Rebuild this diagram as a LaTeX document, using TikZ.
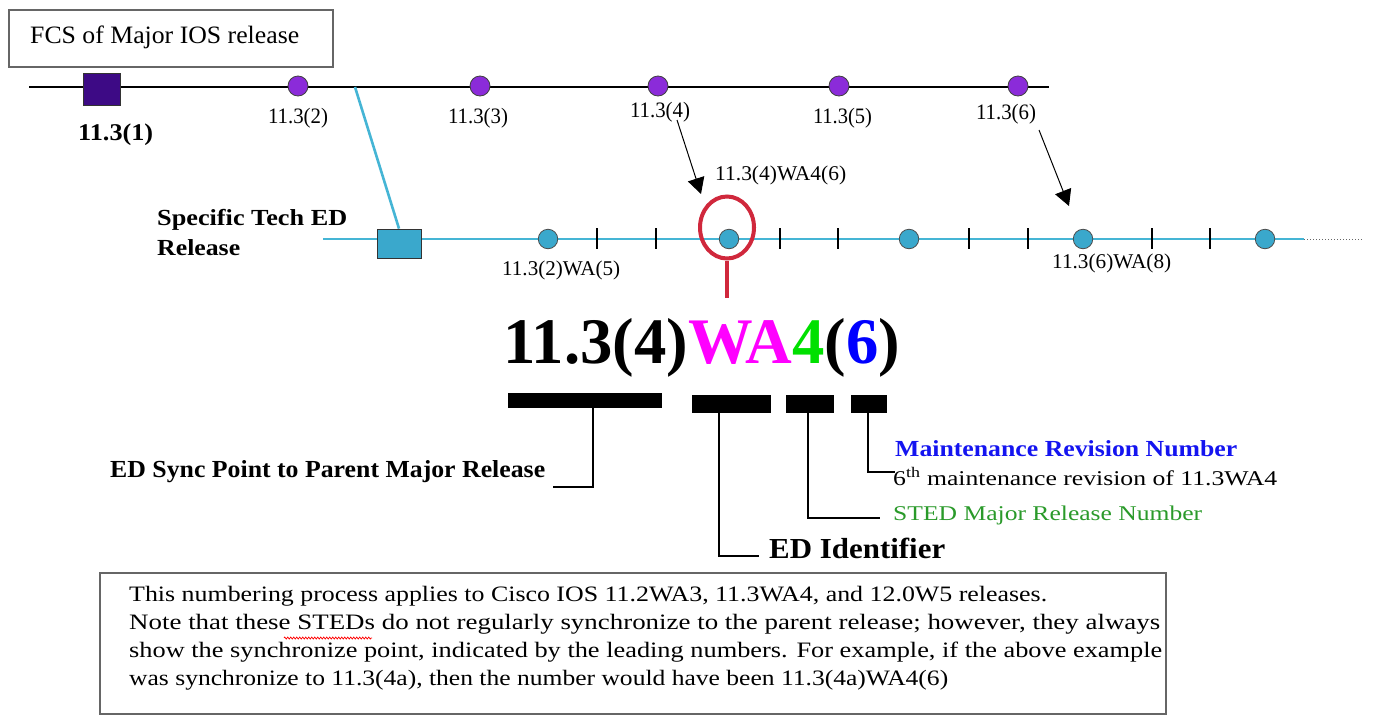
\documentclass[tikz,border=0pt]{standalone}
\usepackage{fontspec}
\setmainfont{Liberation Serif}
\usepackage{graphicx}
\usetikzlibrary{arrows.meta,shapes.geometric,decorations.pathmorphing}
\newcommand\fitw[2]{\resizebox{#1pt}{\height}{#2}}
\newcommand\fsz[1]{\fontsize{#1}{#1}\selectfont}
\definecolor{sqcol}{HTML}{3D0A85}
\definecolor{pcol}{HTML}{8B2BD9}
\definecolor{ccol}{HTML}{3AA8CC}
\definecolor{cline}{HTML}{45B5D5}
\definecolor{redc}{HTML}{D0283C}
\definecolor{magc}{HTML}{FF00FF}
\definecolor{grnc}{HTML}{00E000}
\definecolor{bluc}{HTML}{0000FF}
\definecolor{lgrn}{HTML}{2A9A2A}
\definecolor{mblue}{HTML}{1414F0}
\definecolor{boxgray}{HTML}{666666}
\begin{document}
\begin{tikzpicture}[x=1pt,y=-1pt,
  txt/.style={inner sep=0pt, anchor=base west},
  ctxt/.style={inner sep=0pt, anchor=base},
  pcirc/.style={circle, draw=black!75, line width=0.8pt, fill=pcol, minimum size=20pt, inner sep=0pt},
  bcirc/.style={circle, draw=black!70, line width=0.8pt, fill=ccol, minimum size=19.5pt, inner sep=0pt},
  tickmark/.style={black, line width=1.3pt},
  barbox/.style={fill=black, draw=none, inner sep=0pt},
  leader/.style={line width=2.8pt, black},
  arr/.style={line width=1pt, -{Triangle[length=16pt,width=17pt]}},
  framebox/.style={draw=boxgray, line width=1.5pt, inner sep=0pt}]
\useasboundingbox (0,0) rectangle (1373,715);
\fill[white] (0,0) rectangle (1373,715);

% FCS box
\node[framebox, minimum width=324pt, minimum height=57pt] (fcs) at (171,38.5) {};
\node[txt] (fcst) at (30,43) {\fsz{25}\fitw{269}{FCS of Major IOS release}};

% top timeline
\coordinate (tl) at (29,87);
\coordinate (tr) at (1049,87);
\coordinate (jt) at (355,87);
\draw[black, line width=1.5pt] (tl) -- (tr);

% blue timeline
\coordinate (bl) at (323,239);
\coordinate (br) at (1304,239);
\coordinate (bd) at (1362,239);
\draw[cline, line width=2.6pt] (bl) -- (br);
\draw[boxgray, line width=1pt, dotted] (br) -- (bd);
\foreach \x in {597,656,780,838,969,1028,1152,1210}
  \draw[tickmark] (\x,228) -- (\x,249);

% nodes on top line
\node[draw=black!80, line width=0.8pt, fill=sqcol, minimum width=37pt, minimum height=32pt, inner sep=0pt] (sq) at (102,89) {};
\node[pcirc] (p2) at (298,86) {};
\node[pcirc] (p3) at (480,86) {};
\node[pcirc] (p4) at (658,86) {};
\node[pcirc] (p5) at (839,86) {};
\node[pcirc] (p6) at (1018,86) {};

% blue square and circles
\node[draw=black!80, line width=0.8pt, fill=ccol, minimum width=44pt, minimum height=29pt, inner sep=0pt] (bsq) at (399,243.5) {};
\draw[cline, line width=2.6pt] (jt) -- (bsq.north);
\node[bcirc] (b1) at (548,239) {};
\node[bcirc] (b2) at (729,239) {};
\node[bcirc] (b3) at (909,239) {};
\node[bcirc] (b4) at (1083,239) {};
\node[bcirc] (b5) at (1265,239) {};

% labels top line
\node[txt] (l1) at (78,140) {\fsz{24}\fitw{75}{\bfseries 11.3(1)}};
\node[ctxt] (l2) at (298,123) {\fsz{22}\fitw{60}{11.3(2)}};
\node[ctxt] (l3) at (478,123) {\fsz{22}\fitw{60}{11.3(3)}};
\node[ctxt] (l4) at (660,117) {\fsz{22}\fitw{60}{11.3(4)}};
\node[ctxt] (l5) at (842.5,123) {\fsz{22}\fitw{59}{11.3(5)}};
\node[ctxt] (l6) at (1006,119) {\fsz{22}\fitw{60}{11.3(6)}};

% labels blue line
\node[txt] (st1) at (157,225) {\fsz{23}\fitw{190}{\bfseries Specific Tech ED}};
\node[txt] (st2) at (157,255) {\fsz{23}\fitw{83}{\bfseries Release}};
\node[txt] (w5) at (502,275) {\fsz{21}\fitw{118}{11.3(2)WA(5)}};
\node[txt] (w8) at (1052,268) {\fsz{21}\fitw{119}{11.3(6)WA(8)}};
\node[txt] (w46) at (715,180) {\fsz{21}\fitw{131}{11.3(4)WA4(6)}};

% arrows
\coordinate (a1s) at (677,120);
\coordinate (a1e) at (701,194);
\draw[arr] (a1s) -- (a1e);
\coordinate (a2s) at (1039,130);
\coordinate (a2e) at (1069,206);
\draw[arr] (a2s) -- (a2e);

% red ellipse
\node[ellipse, draw=redc, line width=4pt, minimum width=54pt, minimum height=62pt, inner sep=0pt] (ell) at (727,227.5) {};
\coordinate (rl) at (727,298);
\draw[redc, line width=4pt] (ell.south) -- (rl);

% big number
\node[txt] (big) at (503,363) {\fsz{65}\fitw{397}{\bfseries 11.3(4)\textcolor{magc}{WA}\textcolor{grnc}{4}(\textcolor{bluc}{6})}};

% bars
\node[barbox, minimum width=154pt, minimum height=15pt] (bar1) at (585,400.5) {};
\node[barbox, minimum width=79pt, minimum height=18pt] (bar2) at (731.5,404) {};
\node[barbox, minimum width=48pt, minimum height=18pt] (bar3) at (810,404) {};
\node[barbox, minimum width=36pt, minimum height=18pt] (bar4) at (869,404) {};

% leaders
\coordinate (c1) at (553,487);
\coordinate (c2) at (759,556);
\coordinate (c3) at (880,518);
\coordinate (c4) at (895,472);
\draw[leader] ([xshift=8pt]bar1.south) |- (c1);
\draw[leader] ([xshift=-12.5pt]bar2.south) |- (c2);
\draw[leader] ([xshift=-2pt]bar3.south) |- (c3);
\draw[leader] ([xshift=-1pt]bar4.south) |- (c4);

% leader labels
\node[txt] (t1) at (110,477) {\fsz{24.5}\fitw{435}{\bfseries ED Sync Point to Parent Major Release}};
\node[txt] (t2) at (769,558) {\fsz{29}\fitw{176}{\bfseries ED Identifier}};
\node[txt] (t3) at (893,520) {\fsz{21}\fitw{309}{\color{lgrn}STED Major Release Number}};
\node[txt] (t4) at (895,456) {\fsz{23}\fitw{342}{\bfseries\color{mblue}Maintenance Revision Number}};
\node[txt] (t5) at (893,485) {\fsz{21}\fitw{384}{6\textsuperscript{th} maintenance revision of 11.3WA4}};

% note box
\node[framebox, minimum width=1066pt, minimum height=141pt] (note) at (633,643.5) {};
\node[txt] (n1) at (129,601) {\fsz{22}\fitw{918}{This numbering process applies to Cisco IOS 11.2WA3, 11.3WA4, and 12.0W5 releases.}};
\node[txt] (n2) at (129,629) {\fsz{22}\fitw{1031}{Note that these STEDs do not regularly synchronize to the parent release; however, they always}};
\node[txt] (n3) at (129,657) {\fsz{22}\fitw{1033}{show the synchronize point, indicated by the leading numbers. For example, if the above example}};
\node[txt] (n4) at (129,685) {\fsz{22}\fitw{819}{was synchronize to 11.3(4a), then the number would have been 11.3(4a)WA4(6)}};
\draw[red, line width=0.7pt, decorate, decoration={zigzag, amplitude=1pt, segment length=3pt}] (284,638) -- (372,638);
\end{tikzpicture}
\end{document}
